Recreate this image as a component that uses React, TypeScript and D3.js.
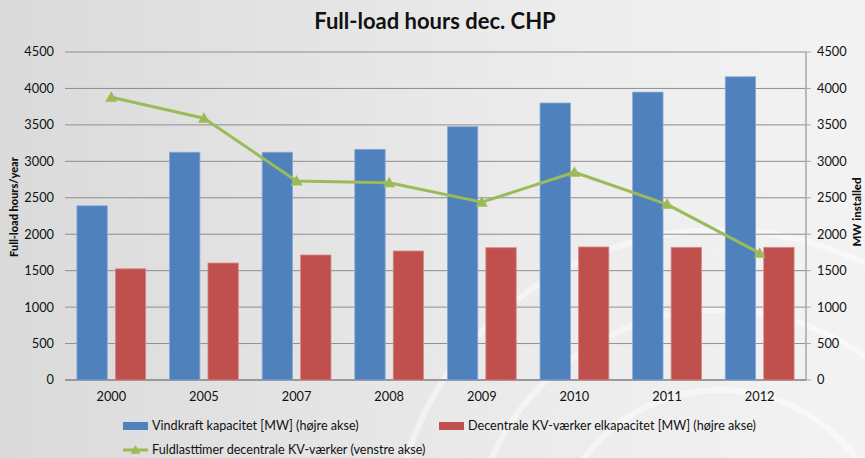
import * as d3 from 'd3';
import React from 'react';

const years = ['2000', '2005', '2007', '2008', '2009', '2010', '2011', '2012'];
const windCapacity = [2390, 3125, 3125, 3165, 3475, 3800, 3950, 4160];
const chpCapacity = [1525, 1605, 1715, 1770, 1815, 1825, 1820, 1820];
const fullLoadHours = [3880, 3590, 2730, 2705, 2440, 2850, 2410, 1740];
const yTicks = [0, 500, 1000, 1500, 2000, 2500, 3000, 3500, 4000, 4500];

const seriesNames = [
    'Vindkraft kapacitet [MW] (højre akse)',
    'Decentrale KV-værker elkapacitet [MW] (højre akse)',
    'Fuldlasttimer decentrale KV-værker (venstre akse)',
];

const BLUE = '#4f81bd';
const RED = '#c0504d';
const GREEN = '#9bbb59';
const FONT = 'Lato, "Open Sans", sans-serif';

function Triangle({ x, y, size = 6 }: { x: number; y: number; size?: number }) {
    return (
        <path
            d={`M${x},${y - size} L${x + size},${y + size * 0.75} L${x - size},${y + size * 0.75} Z`}
            fill={GREEN}
        />
    );
}

export default function App() {
    const width = 865;
    const height = 458;
    const left = 65;
    const right = 806;
    const top = 52;
    const bottom = 380;

    const x = d3.scaleBand().domain(years).range([left, right]).padding(0);
    const inner = d3.scaleBand()
        .domain(['wind', 'chp'])
        .range([0, x.bandwidth()])
        .paddingInner(0.21)
        .paddingOuter(0.31);
    const y = d3.scaleLinear().domain([0, 4500]).range([bottom, top]);

    const linePath = d3.line<number>()
        .x((_, i) => x(years[i])! + x.bandwidth() / 2)
        .y(d => y(d))(fullLoadHours);

    return (
        <svg width={width} height={height} style={{ position: 'absolute', left: 0, top: 0 }} fontFamily={FONT}>
            <defs>
                <linearGradient id="bg" x1="0" x2="1" y1="0" y2="0">
                    <stop offset="0" stopColor="#dadada" />
                    <stop offset="0.6" stopColor="#ebebeb" />
                    <stop offset="1" stopColor="#f3f3f3" />
                </linearGradient>
            </defs>
            <rect width={width} height={height} fill="url(#bg)" />
            {/* faint background ornament */}
            <g fill="none" stroke="#ffffff" strokeOpacity={0.45} strokeWidth={6}>
                <circle cx={720} cy={560} r={170} />
                <circle cx={720} cy={560} r={250} />
                <circle cx={720} cy={560} r={330} />
            </g>

            <text x={435} y={29} textAnchor="middle" fontSize={22} fontWeight="bold" fill="#111">
                Full-load hours dec. CHP
            </text>

            {yTicks.map(t => (
                <g key={t}>
                    <line x1={left} x2={right} y1={y(t)} y2={y(t)} stroke="#8e8e8e" strokeWidth={1} />
                    <text x={54} y={y(t)} dy="0.35em" textAnchor="end" fontSize={12.8} fill="#111">{t}</text>
                    <line x1={right} x2={right + 5} y1={y(t)} y2={y(t)} stroke="#a6a6a6" />
                    <text x={817} y={y(t)} dy="0.35em" fontSize={12.8} fill="#111">{t}</text>
                </g>
            ))}
            <line x1={right} x2={right} y1={top} y2={bottom} stroke="#a6a6a6" strokeWidth={1.5} />
            <line x1={left} x2={right} y1={bottom} y2={bottom} stroke="#8e8e8e" strokeWidth={1.5} />

            {years.map((yr, i) => (
                <g key={yr}>
                    <rect
                        x={x(yr)! + inner('wind')!}
                        y={y(windCapacity[i])}
                        width={inner.bandwidth()}
                        height={bottom - y(windCapacity[i])}
                        fill={BLUE}
                        stroke="#8aa9d4"
                        strokeWidth={0.8}
                    />
                    <rect
                        x={x(yr)! + inner('chp')!}
                        y={y(chpCapacity[i])}
                        width={inner.bandwidth()}
                        height={bottom - y(chpCapacity[i])}
                        fill={RED}
                        stroke="#d68a88"
                        strokeWidth={0.8}
                    />
                    <text x={x(yr)! + x.bandwidth() / 2} y={401} textAnchor="middle" fontSize={12.8} fill="#111">
                        {yr}
                    </text>
                </g>
            ))}

            <path d={linePath!} fill="none" stroke={GREEN} strokeWidth={3} strokeLinejoin="round" />
            {fullLoadHours.map((v, i) => (
                <Triangle key={i} x={x(years[i])! + x.bandwidth() / 2} y={y(v)} />
            ))}

            <text transform="translate(18,207) rotate(-90)" textAnchor="middle" fontSize={11} fontWeight="900" fill="#111">
                Full-load hours/year
            </text>
            <text transform="translate(861,212) rotate(-90)" textAnchor="middle" fontSize={11.5} fontWeight="900" fill="#111">
                MW installed
            </text>

            <g fontSize={12.6} fill="#111">
                <rect x={123} y={422} width={25} height={8} fill={BLUE} />
                <text x={152} y={426} dy="0.35em">{seriesNames[0]}</text>
                <rect x={439} y={422} width={25} height={8} fill={RED} />
                <text x={468} y={426} dy="0.35em">{seriesNames[1]}</text>
                <line x1={123} x2={148} y1={450} y2={450} stroke={GREEN} strokeWidth={3} />
                <Triangle x={135.5} y={450} size={5} />
                <text x={152} y={450} dy="0.35em">{seriesNames[2]}</text>
            </g>
        </svg>
    );
}
